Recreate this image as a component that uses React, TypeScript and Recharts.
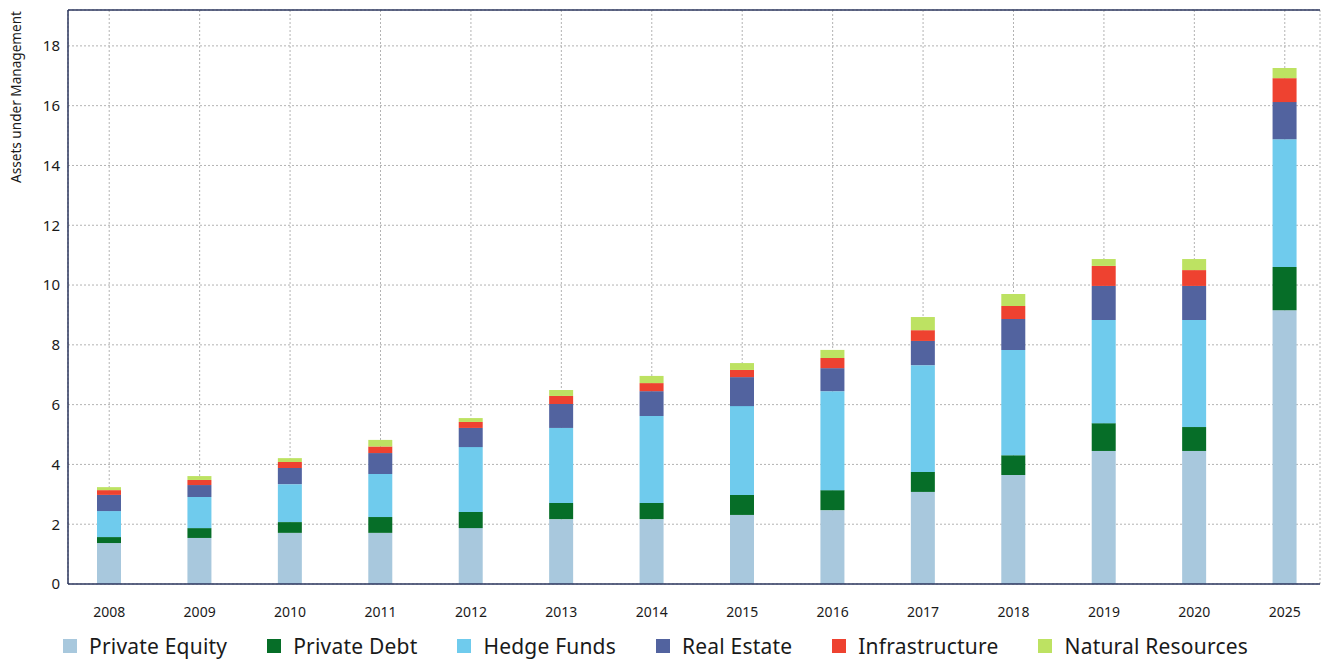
import { BarChart, Bar, XAxis, YAxis, CartesianGrid, Legend, ReferenceLine, Label } from 'recharts';

const years = ['2008', '2009', '2010', '2011', '2012', '2013', '2014', '2015', '2016', '2017', '2018', '2019', '2020', '2025'];

const privateEquity = [1.37, 1.54, 1.71, 1.71, 1.87, 2.17, 2.17, 2.31, 2.47, 3.08, 3.65, 4.45, 4.45, 9.16];
const privateDebt = [0.2, 0.33, 0.36, 0.53, 0.54, 0.54, 0.54, 0.67, 0.67, 0.67, 0.66, 0.93, 0.8, 1.44];
const hedgeFunds = [0.87, 1.04, 1.27, 1.44, 2.17, 2.51, 2.91, 2.97, 3.31, 3.57, 3.52, 3.45, 3.58, 4.28];
const realEstate = [0.54, 0.4, 0.54, 0.7, 0.64, 0.8, 0.83, 0.97, 0.77, 0.81, 1.03, 1.14, 1.14, 1.24];
const infrastructure = [0.16, 0.17, 0.2, 0.22, 0.2, 0.27, 0.27, 0.24, 0.34, 0.36, 0.44, 0.67, 0.53, 0.8];
const naturalResources = [0.1, 0.13, 0.13, 0.22, 0.13, 0.2, 0.24, 0.23, 0.27, 0.44, 0.4, 0.23, 0.37, 0.34];

const yTicks = [0, 2, 4, 6, 8, 10, 12, 14, 16, 18];

const SERIES = [
  { key: 'pe', name: 'Private Equity', color: '#a8c8dd' },
  { key: 'pd', name: 'Private Debt', color: '#066e28' },
  { key: 'hf', name: 'Hedge Funds', color: '#6fcbed' },
  { key: 're', name: 'Real Estate', color: '#52639f' },
  { key: 'inf', name: 'Infrastructure', color: '#ee4230' },
  { key: 'nr', name: 'Natural Resources', color: '#bde262' },
];

const data = years.map((year, i) => ({
  year,
  pe: privateEquity[i],
  pd: privateDebt[i],
  hf: hedgeFunds[i],
  re: realEstate[i],
  inf: infrastructure[i],
  nr: naturalResources[i],
}));

const FONT = '"Noto Sans", "Open Sans", sans-serif';
const NAVY = '#2b365e';

function LegendRow() {
  return (
    <div style={{ height: 38, paddingTop: 11, boxSizing: 'border-box', display: 'flex', paddingLeft: 63, gap: 40, fontFamily: FONT, fontSize: 21, letterSpacing: 0.2, color: '#1a1a1a' }}>
      {SERIES.map((s) => (
        <div key={s.key} style={{ display: 'flex', alignItems: 'center', gap: 12, height: 22 }}>
          <span style={{ width: 14, height: 14, background: s.color, display: 'inline-block' }} />
          <span style={{ lineHeight: '22px', whiteSpace: 'nowrap' }}>{s.name}</span>
        </div>
      ))}
    </div>
  );
}

export default function App() {
  return (
    <div style={{ position: 'absolute', left: 0, top: 0, width: 1321, height: 662, overflow: 'hidden', background: '#fff' }}>
      <BarChart width={1321} height={662} data={data} margin={{ top: 10, right: 1, left: 0, bottom: 0 }}>
        <CartesianGrid stroke="#b3b3b3" strokeDasharray="2 2" />
        <XAxis
          dataKey="year"
          padding={{ left: -4, right: -10 }}
          height={40}
          tickLine={false}
          tickSize={0}
          tickMargin={23}
          axisLine={{ stroke: NAVY, strokeWidth: 1.5 }}
          tick={{ fill: '#1a1a1a', fontSize: 14, fontFamily: FONT }}
        />
        <YAxis
          width={68}
          domain={[0, 19.2]}
          ticks={yTicks}
          allowDataOverflow
          tickLine={false}
          axisLine={{ stroke: NAVY, strokeWidth: 1.5 }}
          tick={{ fill: '#1a1a1a', fontSize: 15, fontFamily: FONT }}
        >
          <Label
            content={() => (
              <text
                x={21}
                y={97}
                transform="rotate(-90, 21, 97)"
                textAnchor="middle"
                fontSize={13.6}
                fontFamily={FONT}
                fill="#1a1a1a"
              >
                Assets under Management
              </text>
            )}
          />
        </YAxis>
        <ReferenceLine y={19.2} stroke={NAVY} strokeWidth={1.5} />
        {SERIES.map((s) => (
          <Bar key={s.key} dataKey={s.key} name={s.name} stackId="a" fill={s.color} barSize={24} isAnimationActive={false} />
        ))}
        <Legend verticalAlign="bottom" content={() => <LegendRow />} />
      </BarChart>
    </div>
  );
}
